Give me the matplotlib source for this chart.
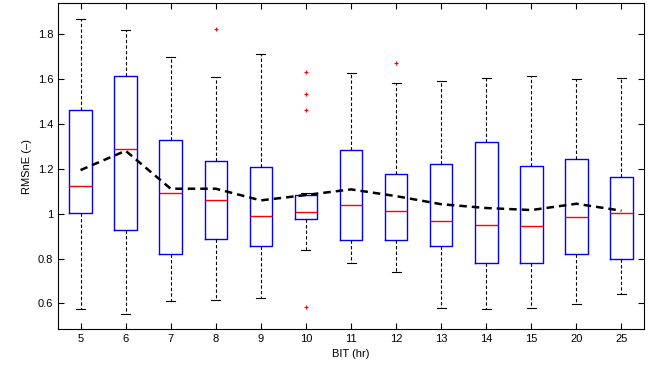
import matplotlib
matplotlib.use("Agg")
import matplotlib.pyplot as plt

plt.rcParams['font.family'] = ['Liberation Sans', 'DejaVu Sans']

# BIT categories (hr)
bit_labels = ['5', '6', '7', '8', '9', '10', '11', '12', '13', '14', '15', '20', '25']

# box statistics
whislo = [0.573, 0.551, 0.610, 0.615, 0.626, 0.840, 0.778, 0.741, 0.578, 0.576, 0.580, 0.597, 0.640]
q1 = [1.004, 0.928, 0.820, 0.889, 0.858, 0.974, 0.882, 0.883, 0.855, 0.782, 0.781, 0.820, 0.800]
med = [1.123, 1.286, 1.093, 1.059, 0.990, 1.008, 1.039, 1.013, 0.965, 0.950, 0.943, 0.987, 1.005]
q3 = [1.461, 1.614, 1.328, 1.233, 1.209, 1.084, 1.285, 1.176, 1.219, 1.320, 1.210, 1.244, 1.163]
whishi = [1.868, 1.818, 1.699, 1.608, 1.709, 1.090, 1.626, 1.582, 1.591, 1.605, 1.614, 1.601, 1.605]
fliers = [[], [], [], [1.821], [], [1.632, 1.533, 1.463, 0.585], [], [1.671], [], [], [], [], []]

# mean values (dashed line)
means = [1.194, 1.280, 1.111, 1.111, 1.059, 1.083, 1.108, 1.078, 1.042, 1.025, 1.016, 1.044, 1.013]

stats = []
for i in range(len(bit_labels)):
    stats.append(dict(whislo=whislo[i], q1=q1[i], med=med[i], q3=q3[i],
                      whishi=whishi[i], fliers=fliers[i], label=bit_labels[i]))

fig = plt.figure(figsize=(6.66, 3.69), dpi=100)
ax = fig.add_axes([0.0871, 0.1084, 0.8799, 0.8826])

pos = list(range(1, len(bit_labels) + 1))
ax.bxp(stats, positions=pos, widths=0.5, showfliers=True,
       boxprops=dict(color='blue', linewidth=1.0),
       medianprops=dict(color='red', linewidth=1.0),
       whiskerprops=dict(color='black', linestyle=(0, (3, 2)), linewidth=0.8),
       capprops=dict(color='black', linewidth=0.8),
       capwidths=0.2,
       flierprops=dict(marker='+', markeredgecolor='red', markersize=3.5,
                       markeredgewidth=0.8, linestyle='none'))

ax.plot(pos, means, color='black', linestyle=(0, (3, 2)), linewidth=1.8)

ax.set_xlim(0.5, 13.5)
ax.set_ylim(0.486, 1.937)
ax.set_yticks([0.6, 0.8, 1.0, 1.2, 1.4, 1.6, 1.8])
ax.set_yticklabels(['0.6', '0.8', '1', '1.2', '1.4', '1.6', '1.8'])
ax.set_xticks(pos)
ax.set_xticklabels(bit_labels)
ax.tick_params(direction='in', top=True, right=True, labelsize=8, length=4, width=0.8)
for s in ax.spines.values():
    s.set_linewidth(0.8)

ax.set_xlabel('BIT (hr)', fontsize=8)
ax.set_ylabel('RMSnE (\u2013)', fontsize=8)

fig.savefig('out.png', dpi=100)
